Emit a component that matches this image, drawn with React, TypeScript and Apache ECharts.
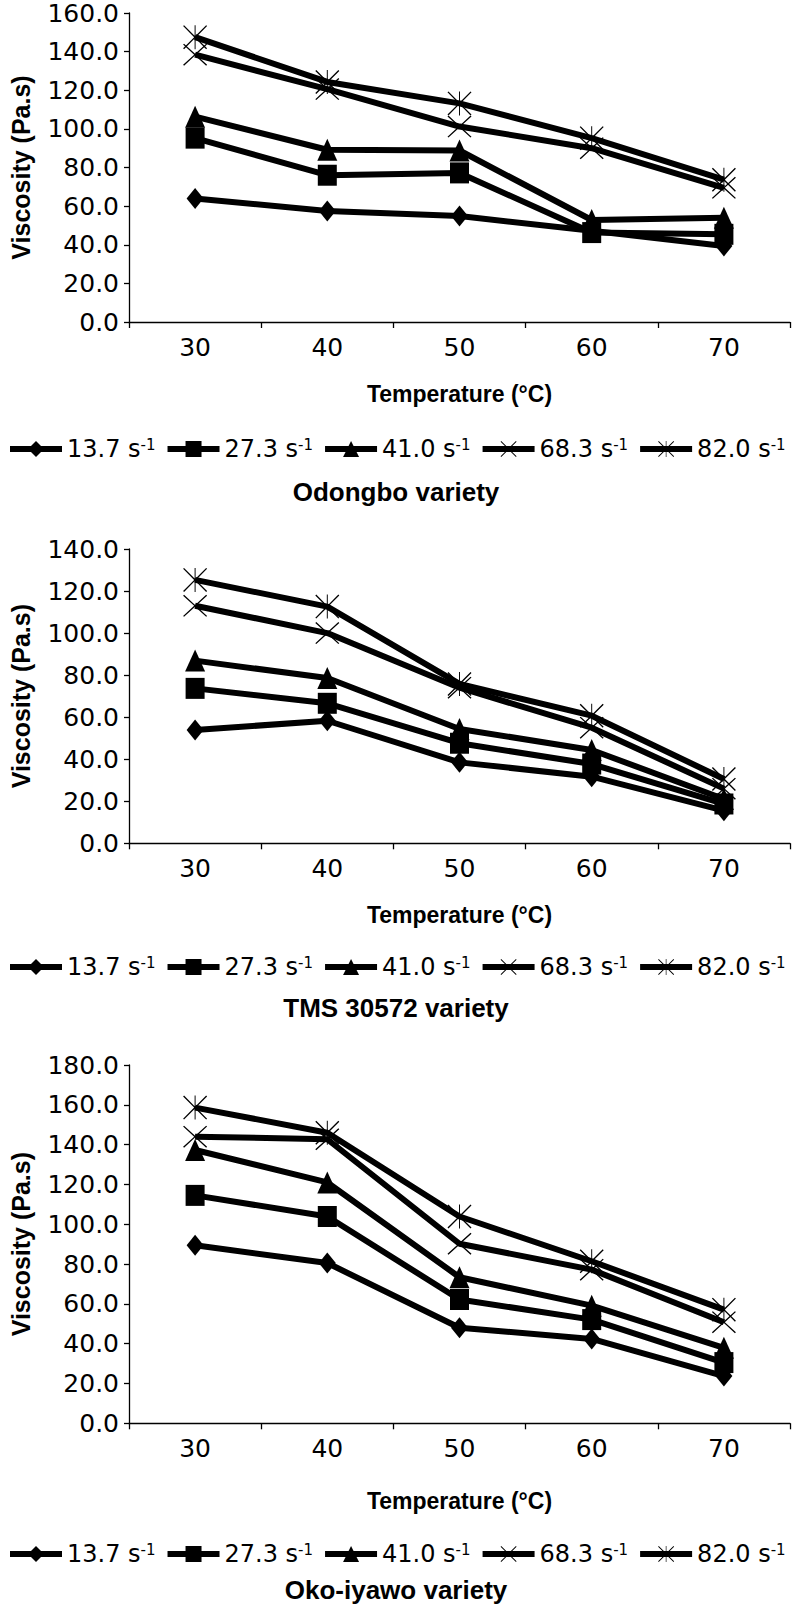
import React, { useEffect, useRef } from "react";
import * as echarts from "echarts";

// ---------- data ----------
const temperatures = ["30", "40", "50", "60", "70"];
const shearRates = ["13.7", "27.3", "41.0", "68.3", "82.0"];
const varieties = ["Odongbo variety", "TMS 30572 variety", "Oko-iyawo variety"];
const yMaxima = [160, 140, 180];

// Odongbo
const odongbo137 = [64.0, 57.5, 54.9, 47.2, 39.4];
const odongbo273 = [95.2, 76.0, 77.2, 46.3, 45.4];
const odongbo410 = [106.3, 89.2, 88.8, 52.8, 54.0];
const odongbo683 = [138.4, 120.6, 101.2, 90.0, 69.5];
const odongbo820 = [147.5, 124.3, 113.2, 95.2, 73.7];

// TMS 30572
const tms137 = [53.9, 58.3, 38.5, 31.7, 15.5];
const tms273 = [73.7, 66.6, 47.6, 37.7, 18.7];
const tms410 = [86.9, 78.6, 54.4, 44.4, 21.1];
const tms683 = [113.0, 100.0, 74.0, 55.0, 26.0];
const tms820 = [125.3, 112.6, 75.8, 60.7, 30.6];

// Oko-iyawo
const oko137 = [89.4, 80.5, 48.0, 42.4, 23.7];
const oko273 = [114.5, 103.9, 62.2, 52.1, 30.5];
const oko410 = [137.3, 121.0, 73.4, 59.1, 37.9];
const oko683 = [144.0, 142.7, 90.2, 77.2, 50.8];
const oko820 = [158.6, 146.0, 103.9, 81.4, 57.1];

const chartData = [
  [odongbo137, odongbo273, odongbo410, odongbo683, odongbo820],
  [tms137, tms273, tms410, tms683, tms820],
  [oko137, oko273, oko410, oko683, oko820],
];

// ---------- layout / style ----------
const gridLayout = [
  { top: 13, height: 309, xNameGap: 60, legendTop: 437, titleTop: 479 },
  { top: 549, height: 294.3, xNameGap: 60, legendTop: 955, titleTop: 995 },
  { top: 1065, height: 358.3, xNameGap: 66, legendTop: 1542, titleTop: 1577 },
];
const GRID_LEFT = 123;
const GRID_RIGHT = 2;

const X_PATH =
  "path://M0,4 L4,0 L50,46 L96,0 L100,4 L54,50 L100,96 L96,100 L50,54 L4,100 L0,96 L46,50 Z";
const STAR_PATH =
  "path://M0,4 L4,0 L50,46 L96,0 L100,4 L54,50 L100,96 L96,100 L50,54 L4,100 L0,96 L46,50 Z M48,0 L52,0 L52,100 L48,100 Z";

const symbols = ["diamond", "rect", "triangle", X_PATH, STAR_PATH];
const symbolSizes: any[] = [
  [17, 21],
  [19, 21],
  [20, 22],
  [24, 22],
  [24, 24],
];

const REG_FONT = "DejaVu Sans";
const BOLD_FONT = "Liberation Sans";

export default function App() {
  const ref = useRef<HTMLDivElement>(null);

  useEffect(() => {
    if (!ref.current) return;
    const chart = echarts.init(ref.current, null, { renderer: "svg" });
    const names = shearRates.map((r) => `${r} s⁻¹`);

    const grids = gridLayout.map((g) => ({
      left: GRID_LEFT,
      right: GRID_RIGHT,
      top: g.top,
      height: g.height,
      containLabel: false,
    }));

    const xAxes = gridLayout.map((g, i) => ({
      gridIndex: i,
      type: "category",
      data: temperatures,
      boundaryGap: true,
      axisLine: { show: true, lineStyle: { color: "#000", width: 1.3 } },
      axisTick: { show: true, length: 6, alignWithLabel: false, lineStyle: { color: "#000", width: 1.3 } },
      axisLabel: { color: "#000", fontFamily: REG_FONT, fontSize: 25, margin: 13 },
      splitLine: { show: false },
      name: "Temperature (°C)",
      nameLocation: "middle",
      nameGap: g.xNameGap,
      nameTextStyle: { color: "#000", fontFamily: BOLD_FONT, fontWeight: "bold", fontSize: 23 },
    }));

    const yAxes = gridLayout.map((_, i) => ({
      gridIndex: i,
      type: "value",
      min: 0,
      max: yMaxima[i],
      interval: 20,
      axisLine: { show: true, lineStyle: { color: "#000", width: 1.3 } },
      axisTick: { show: true, length: 5, lineStyle: { color: "#000", width: 1.3 } },
      axisLabel: {
        color: "#000",
        fontFamily: REG_FONT,
        fontSize: 25,
        lineHeight: 18,
        margin: 10,
        formatter: (v: number) => v.toFixed(1),
      },
      splitLine: { show: false },
      name: "Viscosity (Pa.s)",
      nameLocation: "middle",
      nameRotate: 90,
      nameGap: 96,
      nameTextStyle: { color: "#000", fontFamily: BOLD_FONT, fontWeight: "bold", fontSize: 25 },
    }));

    const series: any[] = [];
    chartData.forEach((set, i) => {
      set.forEach((values, j) => {
        series.push({
          type: "line",
          name: names[j],
          xAxisIndex: i,
          yAxisIndex: i,
          data: values,
          symbol: symbols[j],
          symbolSize: symbolSizes[j],
          showAllSymbol: true,
          lineStyle: { color: "#000", width: 6 },
          itemStyle: { color: "#000", borderWidth: 0 },
          emphasis: { disabled: true },
          silent: true,
        });
      });
    });

    const legends = gridLayout.map((g) => ({
      top: g.legendTop,
      left: 7,
      right: 0,
      padding: 0,
      itemWidth: 52,
      itemHeight: 20,
      itemGap: 9,
      selectedMode: false,
      data: names,
      lineStyle: { width: 6, color: "#000" },
      itemStyle: { color: "#000", borderWidth: 0 },
      formatter: (n: string) => `{a|${n.replace(" s⁻¹", " s")}}{b|-1}`,
      textStyle: {
        color: "#000",
        fontFamily: REG_FONT,
        fontSize: 24,
        rich: {
          a: { color: "#000", fontFamily: REG_FONT, fontSize: 24 },
          b: { color: "#000", fontFamily: REG_FONT, fontSize: 15, verticalAlign: "top" },
        },
      },
    }));

    const titles = varieties.map((v, i) => ({
      text: v,
      left: "center",
      top: gridLayout[i].titleTop,
      padding: 0,
      textStyle: {
        color: "#000",
        fontFamily: BOLD_FONT,
        fontWeight: "bold",
        fontSize: 26,
        lineHeight: 26,
      },
    }));

    chart.setOption({
      animation: false,
      backgroundColor: "#fff",
      title: titles,
      grid: grids,
      xAxis: xAxes,
      yAxis: yAxes,
      legend: legends,
      series,
    });

    return () => chart.dispose();
  }, []);

  return (
    <div
      ref={ref}
      style={{ position: "absolute", left: 0, top: 0, width: 792, height: 1605, background: "#fff" }}
    />
  );
}
